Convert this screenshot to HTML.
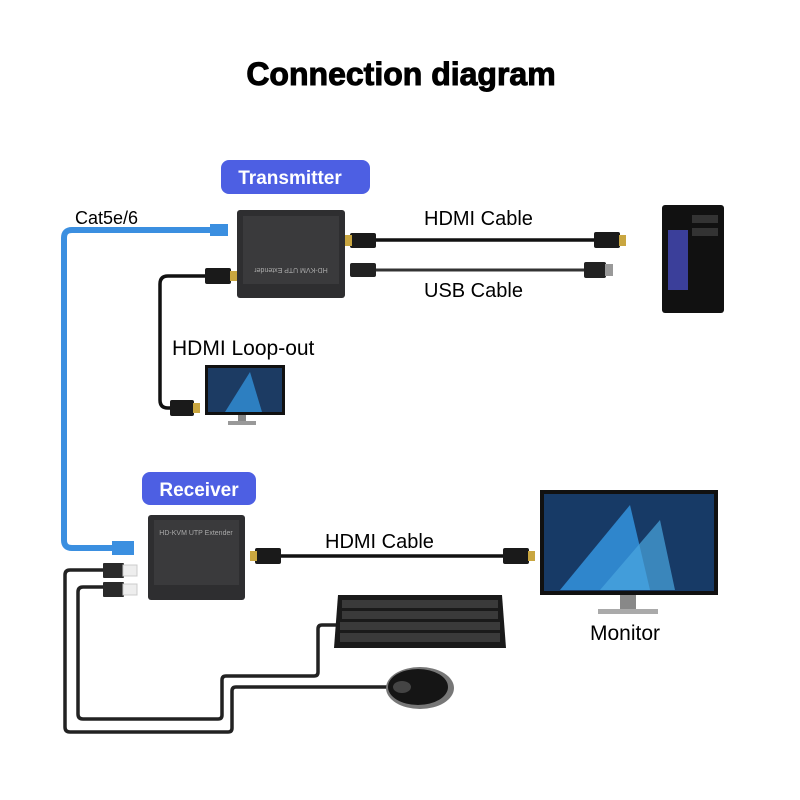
<!DOCTYPE html>
<html><head><meta charset="utf-8"><style>
html,body{margin:0;padding:0;background:#fff;}
svg{display:block;}
text{font-family:"Liberation Sans",sans-serif;}
</style></head><body>
<svg width="800" height="800" viewBox="0 0 800 800" xmlns="http://www.w3.org/2000/svg">
<rect width="800" height="800" fill="#fff"/>
<text x="401" y="85" text-anchor="middle" font-size="32" font-weight="bold" fill="#000" stroke="#000" stroke-width="1">Connection diagram</text>

<rect x="221" y="160" width="149" height="34" rx="8" fill="#4d5fe3"/>
<text x="290" y="184" text-anchor="middle" font-size="19" font-weight="bold" fill="#fff">Transmitter</text>
<rect x="142" y="472" width="114" height="33" rx="8" fill="#4d5fe3"/>
<text x="199" y="496" text-anchor="middle" font-size="19" font-weight="bold" fill="#fff">Receiver</text>

<text x="75" y="224" font-size="18" fill="#000">Cat5e/6</text>
<text x="424" y="225" font-size="20" fill="#000">HDMI Cable</text>
<text x="424" y="297" font-size="20" fill="#000">USB Cable</text>
<text x="172" y="355" font-size="21" fill="#000">HDMI Loop-out</text>
<text x="325" y="548" font-size="20" fill="#000">HDMI Cable</text>
<text x="590" y="640" font-size="21" fill="#000">Monitor</text>

<path d="M222 230 L72 230 Q64 230 64 238 L64 540 Q64 548 72 548 L112 548" fill="none" stroke="#3b8fe0" stroke-width="6"/>
<rect x="210" y="224" width="18" height="12" fill="#3b8fe0"/>
<rect x="112" y="541" width="22" height="14" fill="#3b8fe0"/>

<rect x="237" y="210" width="108" height="88" rx="3" fill="#2e2e30"/>
<rect x="243" y="216" width="96" height="68" fill="#3a3a3c"/>
<text x="291" y="232" text-anchor="middle" font-size="7" fill="#aaa" transform="rotate(180 291 250)">HD-KVM UTP Extender</text>

<line x1="375" y1="240" x2="595" y2="240" stroke="#111" stroke-width="3.5"/>
<rect x="350" y="233" width="26" height="15" rx="2" fill="#1a1a1a"/><rect x="345" y="235" width="7" height="11" fill="#c9a640"/>
<rect x="594" y="232" width="26" height="16" rx="2" fill="#1a1a1a"/><rect x="619" y="235" width="7" height="11" fill="#c9a640"/>
<line x1="375" y1="270" x2="585" y2="270" stroke="#333" stroke-width="3"/>
<rect x="350" y="263" width="26" height="14" rx="2" fill="#222"/>
<rect x="584" y="262" width="22" height="16" rx="2" fill="#222"/><rect x="605" y="264" width="8" height="12" fill="#999"/>

<rect x="662" y="205" width="62" height="108" rx="3" fill="#111"/>
<rect x="668" y="230" width="20" height="60" fill="#3b3f9a"/>
<rect x="692" y="215" width="26" height="8" fill="#333"/>
<rect x="692" y="228" width="26" height="8" fill="#333"/>

<path d="M205 276 L168 276 Q160 276 160 284 L160 400 Q160 408 168 408 L180 408" fill="none" stroke="#111" stroke-width="3.5"/>
<rect x="205" y="268" width="26" height="16" rx="2" fill="#1a1a1a"/><rect x="230" y="271" width="7" height="10" fill="#c9a640"/>
<rect x="170" y="400" width="24" height="16" rx="2" fill="#1a1a1a"/><rect x="193" y="403" width="7" height="10" fill="#c9a640"/>
<rect x="205" y="365" width="80" height="50" fill="#111"/>
<rect x="208" y="368" width="74" height="44" fill="#1c3b63"/>
<polygon points="225,412 250,372 262,412" fill="#2d7fc1"/>
<rect x="238" y="415" width="8" height="6" fill="#888"/><rect x="228" y="421" width="28" height="4" fill="#999"/>

<rect x="148" y="515" width="97" height="85" rx="3" fill="#2e2e30"/>
<rect x="154" y="520" width="85" height="65" fill="#3a3a3c"/>
<text x="196" y="535" text-anchor="middle" font-size="7" fill="#aaa">HD-KVM UTP Extender</text>

<line x1="280" y1="556" x2="505" y2="556" stroke="#111" stroke-width="3.5"/>
<rect x="255" y="548" width="26" height="16" rx="2" fill="#1a1a1a"/><rect x="250" y="551" width="7" height="10" fill="#c9a640"/>
<rect x="503" y="548" width="26" height="16" rx="2" fill="#1a1a1a"/><rect x="528" y="551" width="7" height="10" fill="#c9a640"/>

<rect x="540" y="490" width="178" height="105" fill="#111"/>
<rect x="544" y="494" width="170" height="97" fill="#173a66"/>
<polygon points="560,590 630,505 650,590" fill="#2f86cc"/>
<polygon points="600,590 660,520 675,590" fill="#4aa6e0" opacity="0.7"/>
<rect x="620" y="595" width="16" height="14" fill="#888"/><rect x="598" y="609" width="60" height="5" fill="#aaa"/>

<!-- USB cables -->
<path d="M104 570 L70 570 Q65 570 65 575 L65 727 Q65 732 70 732 L228 732 Q232 732 232 728 L232 691 Q232 687 236 687 L392 687" fill="none" stroke="#222" stroke-width="3.5"/>
<path d="M104 587 L83 587 Q78 587 78 592 L78 714 Q78 719 83 719 L218 719 Q222 719 222 715 L222 680 Q222 676 226 676 L314 676 Q318 676 318 672 L318 629 Q318 625 322 625 L340 625" fill="none" stroke="#222" stroke-width="3.5"/>
<rect x="103" y="563" width="21" height="15" rx="1" fill="#2a2a2a"/><rect x="123" y="565" width="14" height="11" fill="#eee" stroke="#ccc"/>
<rect x="103" y="582" width="21" height="15" rx="1" fill="#2a2a2a"/><rect x="123" y="584" width="14" height="11" fill="#eee" stroke="#ccc"/>

<polygon points="338,595 502,595 506,648 334,648" fill="#1a1a1a"/>
<g fill="#3a3a3a">
<rect x="342" y="600" width="156" height="8"/><rect x="342" y="611" width="156" height="8"/>
<rect x="340" y="622" width="160" height="8"/><rect x="340" y="633" width="160" height="9"/>
</g>
<ellipse cx="420" cy="688" rx="34" ry="21" fill="#777"/>
<ellipse cx="418" cy="687" rx="30" ry="18" fill="#151515"/>
<ellipse cx="402" cy="687" rx="9" ry="6" fill="#444"/>
</svg>
</body></html>
